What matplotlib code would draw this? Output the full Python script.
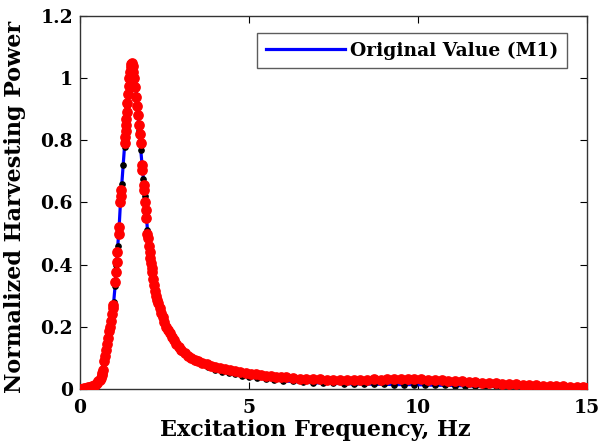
import matplotlib.pyplot as plt

# M1: original value (blue line, black markers)
m1_freq = [0.0, 0.1, 0.2, 0.3, 0.4, 0.5, 0.6, 0.7, 0.8, 0.9, 1.0, 1.04, 1.08, 1.12, 1.16,
           1.20, 1.24, 1.28, 1.32, 1.36, 1.40, 1.44, 1.48, 1.52, 1.56, 1.60, 1.64, 1.68,
           1.72, 1.76, 1.80, 1.84, 1.88, 1.92, 1.96, 2.00, 2.05, 2.10, 2.15, 2.20, 2.3,
           2.4, 2.5, 2.6, 2.7, 2.8, 2.9, 3.0, 3.15, 3.3, 3.45, 3.6, 3.8, 4.0, 4.2, 4.4,
           4.6, 4.8, 5.0, 5.25, 5.5, 5.75, 6.0, 6.3, 6.6, 6.9, 7.2, 7.5, 7.8, 8.1, 8.4,
           8.7, 9.0, 9.3, 9.6, 9.9, 10.2, 10.5, 10.8, 11.1, 11.4, 11.7, 12.0, 12.3, 12.6,
           12.9, 13.2, 13.5, 13.8, 14.1, 14.4, 14.7, 15.0]
m1_power = [0.0, 0.001, 0.003, 0.006, 0.011, 0.018, 0.04, 0.085, 0.15, 0.21, 0.28, 0.33,
            0.40, 0.46, 0.52, 0.60, 0.66, 0.72, 0.78, 0.845, 0.91, 0.955, 0.99, 1.005, 1.015,
            1.015, 1.0, 0.94, 0.88, 0.83, 0.77, 0.72, 0.675, 0.62, 0.565, 0.51, 0.45, 0.40,
            0.36, 0.33, 0.28, 0.245, 0.215, 0.19, 0.165, 0.15, 0.135, 0.12, 0.108, 0.097,
            0.087, 0.079, 0.07, 0.062, 0.056, 0.051, 0.047, 0.043, 0.039, 0.035, 0.032,
            0.029, 0.026, 0.024, 0.022, 0.02, 0.019, 0.018, 0.017, 0.016, 0.016, 0.015,
            0.015, 0.014, 0.014, 0.014, 0.013, 0.012, 0.012, 0.011, 0.01, 0.009, 0.009,
            0.008, 0.007, 0.006, 0.006, 0.005, 0.004, 0.004, 0.003, 0.003, 0.002]

# other samples (red dots)
red_freq = [0.00, 0.06, 0.12, 0.18, 0.24, 0.30, 0.35, 0.40, 0.44, 0.48, 0.52, 0.55, 0.58,
            0.61, 0.64, 0.66, 0.68, 0.70, 0.73, 0.76, 0.79, 0.82, 0.85, 0.88, 0.91, 0.94,
            0.97, 0.99, 1.05, 1.07, 1.09, 1.11, 1.15, 1.16, 1.20, 1.21, 1.22, 1.33, 1.34,
            1.35, 1.36, 1.37, 1.38, 1.40, 1.42, 1.44, 1.46, 1.48, 1.50, 1.52, 1.54, 1.56,
            1.58, 1.60, 1.63, 1.66, 1.69, 1.72, 1.75, 1.78, 1.80, 1.84, 1.85, 1.89, 1.90,
            1.93, 1.95, 1.97, 2.00, 2.02, 2.04, 2.06, 2.08, 2.10, 2.12, 2.14, 2.17, 2.20,
            2.23, 2.26, 2.29, 2.32, 2.36, 2.40, 2.45, 2.50, 2.55, 2.60, 2.66, 2.72, 2.78,
            2.85, 2.92, 3.00, 3.10, 3.20, 3.30, 3.40, 3.50, 3.62, 3.75, 3.88, 4.00, 4.15,
            4.30, 4.45, 4.60, 4.75, 4.90, 5.05, 5.20, 5.35, 5.50, 5.65, 5.80, 5.95, 6.10,
            6.30, 6.50, 6.70, 6.90, 7.10, 7.30, 7.50, 7.70, 7.90, 8.10, 8.30, 8.50, 8.70,
            8.90, 9.10, 9.30, 9.50, 9.70, 9.90, 10.10, 10.30, 10.50, 10.70, 10.90, 11.10,
            11.30, 11.50, 11.70, 11.90, 12.10, 12.30, 12.50, 12.70, 12.90, 13.10, 13.30,
            13.50, 13.70, 13.90, 14.10, 14.30, 14.50, 14.70, 14.90, 15.00]
red_power = [0.000, 0.001, 0.002, 0.003, 0.005, 0.007, 0.009, 0.011, 0.013, 0.016, 0.020,
             0.024, 0.030, 0.036, 0.044, 0.050, 0.062, 0.090, 0.105, 0.125, 0.145, 0.165,
             0.185, 0.200, 0.220, 0.240, 0.260, 0.270, 0.345, 0.375, 0.410, 0.440, 0.500,
             0.520, 0.600, 0.620, 0.640, 0.790, 0.810, 0.830, 0.850, 0.870, 0.890, 0.920,
             0.950, 0.975, 1.000, 1.020, 1.035, 1.045, 1.048, 1.040, 1.020, 1.000, 0.970,
             0.940, 0.910, 0.880, 0.850, 0.820, 0.790, 0.720, 0.705, 0.655, 0.640, 0.600,
             0.575, 0.550, 0.500, 0.485, 0.460, 0.440, 0.420, 0.405, 0.390, 0.375, 0.355,
             0.335, 0.315, 0.300, 0.285, 0.275, 0.260, 0.245, 0.230, 0.215, 0.200, 0.190,
             0.180, 0.168, 0.157, 0.145, 0.135, 0.125, 0.116, 0.107, 0.100, 0.094, 0.089,
             0.084, 0.079, 0.075, 0.071, 0.067, 0.063, 0.060, 0.057, 0.054, 0.051, 0.049,
             0.047, 0.045, 0.043, 0.041, 0.040, 0.039, 0.037, 0.035, 0.033, 0.032, 0.031,
             0.031, 0.030, 0.030, 0.030, 0.029, 0.030, 0.030, 0.030, 0.031, 0.030, 0.031,
             0.031, 0.032, 0.032, 0.033, 0.032, 0.030, 0.029, 0.028, 0.027, 0.026, 0.024,
             0.023, 0.022, 0.020, 0.019, 0.018, 0.017, 0.016, 0.015, 0.014, 0.013, 0.012,
             0.011, 0.010, 0.009, 0.008, 0.007, 0.006, 0.005, 0.004]

x_ticks = [0, 5, 10, 15]
y_ticks = [0, 0.2, 0.4, 0.6, 0.8, 1.0, 1.2]
y_tick_labels = ["0", "0.2", "0.4", "0.6", "0.8", "1", "1.2"]

plt.rcParams['font.family'] = 'DejaVu Serif'
plt.rcParams['font.weight'] = 'bold'

fig = plt.figure(figsize=(6.1, 4.44), dpi=100)
ax = fig.add_axes([0.131, 0.124, 0.831, 0.840])

ax.plot(m1_freq, m1_power, color='#0000ff', lw=2.3, marker='o', ms=3.8,
        mfc='black', mec='black', label='Original Value (M1)', zorder=2)
ax.plot(red_freq, red_power, ls='none', marker='o', ms=6.7, mfc='red', mec='red', zorder=3)

ax.set_xlim(0, 15)
ax.set_ylim(0, 1.2)
ax.set_xticks(x_ticks)
ax.set_xticklabels([str(t) for t in x_ticks])
ax.set_yticks(y_ticks)
ax.set_yticklabels(y_tick_labels)
ax.tick_params(direction='in', length=5, top=True, right=True, labelsize=13.5)
ax.tick_params(axis='x', pad=7)
ax.tick_params(axis='y', pad=5)
for s in ax.spines.values():
    s.set_linewidth(1.0)
    s.set_color('#333333')

ax.set_xlabel('Excitation Frequency, Hz', fontsize=16, fontweight='bold', labelpad=2)
ax.set_ylabel('Normalized Harvesting Power', fontsize=16, fontweight='bold', labelpad=10)
ax.xaxis.label.set_x(0.465)
ax.yaxis.label.set_y(0.488)

leg = ax.legend(loc='upper right', bbox_to_anchor=(0.9606, 0.954), borderaxespad=0,
                fontsize=13.5, handlelength=4.2, handletextpad=0.3, fancybox=False,
                borderpad=0.45)
for h in leg.legend_handles:
    h.set_marker('')
leg.get_frame().set_edgecolor('#333333')
leg.get_frame().set_linewidth(1.0)

fig.savefig('out.png', dpi=100)
